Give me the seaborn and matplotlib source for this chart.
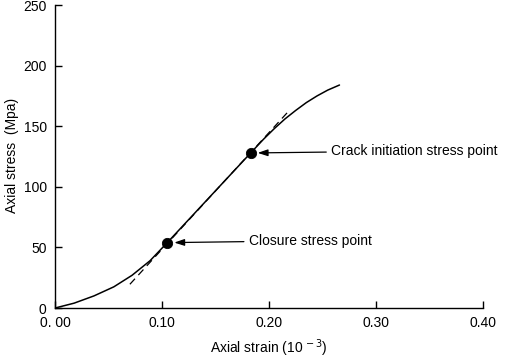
import matplotlib
matplotlib.use("Agg")
import matplotlib.pyplot as plt
from matplotlib import font_manager
import seaborn as sns
import pandas as pd

# Data
strain = [0.0, 0.0178, 0.0364, 0.055, 0.072, 0.0888, 0.105, 0.183,
          0.195, 0.205, 0.215, 0.225, 0.235, 0.245, 0.255, 0.266]
stress = [0.0, 4.0, 10.0, 17.5, 27.0, 39.0, 54.0, 128.0,
          139.3, 148.0, 156.0, 163.0, 169.5, 175.0, 179.8, 184.0]

tangent_strain = [0.070, 0.218]
tangent_stress = [19.6, 162.0]

point_strain = [0.105, 0.183]
point_stress = [54.0, 128.0]
point_labels = ["Closure stress point", "Crack initiation stress point"]
label_strain = [0.181, 0.258]

x_ticks = [0.0, 0.1, 0.2, 0.3, 0.4]
x_tick_labels = ["0. 00", "0.10", "0.20", "0.30", "0.40"]
y_ticks = [0, 50, 100, 150, 200, 250]

sns.set_theme(style="ticks")
plt.rcParams['font.family'] = ['Liberation Sans', 'DejaVu Sans']

names = {f.name for f in font_manager.fontManager.ttflist}
if 'Liberation Sans Narrow' in names:
    ann_font = ['Liberation Sans Narrow', 'DejaVu Sans']
    ann_size = 11.5
else:
    ann_font = ['Liberation Sans', 'DejaVu Sans']
    ann_size = 10

fig = plt.figure(figsize=(5.05, 3.59), dpi=100)
ax = fig.add_axes([0.109, 0.142, 0.847, 0.844])

curve = pd.DataFrame({"strain": strain, "stress": stress})
sns.lineplot(data=curve, x="strain", y="stress", sort=False, color="black",
             linewidth=1.1, ax=ax)
tan = pd.DataFrame({"strain": tangent_strain, "stress": tangent_stress})
sns.lineplot(data=tan, x="strain", y="stress", sort=False, color="black",
             linewidth=0.9, linestyle=(0, (6, 4)), ax=ax)
pts = pd.DataFrame({"strain": point_strain, "stress": point_stress})
sns.scatterplot(data=pts, x="strain", y="stress", color="black", s=55,
                edgecolor="black", zorder=5, ax=ax)

for px, py, lab, lx in zip(point_strain, point_stress, point_labels, label_strain):
    ax.annotate(lab, xy=(px + 0.0065, py), xytext=(lx, py + 1.5),
                fontsize=ann_size, family=ann_font, color="black",
                va="center", ha="left",
                arrowprops=dict(arrowstyle="-|>,head_length=0.6,head_width=0.2",
                                color="black", lw=0.9, shrinkA=1, shrinkB=0))

ax.set_xlim(0, 0.40)
ax.set_ylim(0, 250)
ax.set_xticks(x_ticks)
ax.set_xticklabels(x_tick_labels)
ax.set_yticks(y_ticks)
ax.tick_params(direction="in", length=5, width=1, colors="black",
               labelsize=10, pad=6)
for s in ["left", "bottom"]:
    ax.spines[s].set_color("black")
    ax.spines[s].set_linewidth(1)
sns.despine(ax=ax)

ax.set_xlabel(r"Axial strain (10$^{\,-3}$)", fontsize=10, color="black", labelpad=5)
ax.set_ylabel("")
fig.text(12 / 505, 1 - 155 / 359, "Axial stress  (Mpa)", rotation=90,
         fontsize=10, color="black", ha="center", va="center")

fig.savefig("out.png", dpi=100)
